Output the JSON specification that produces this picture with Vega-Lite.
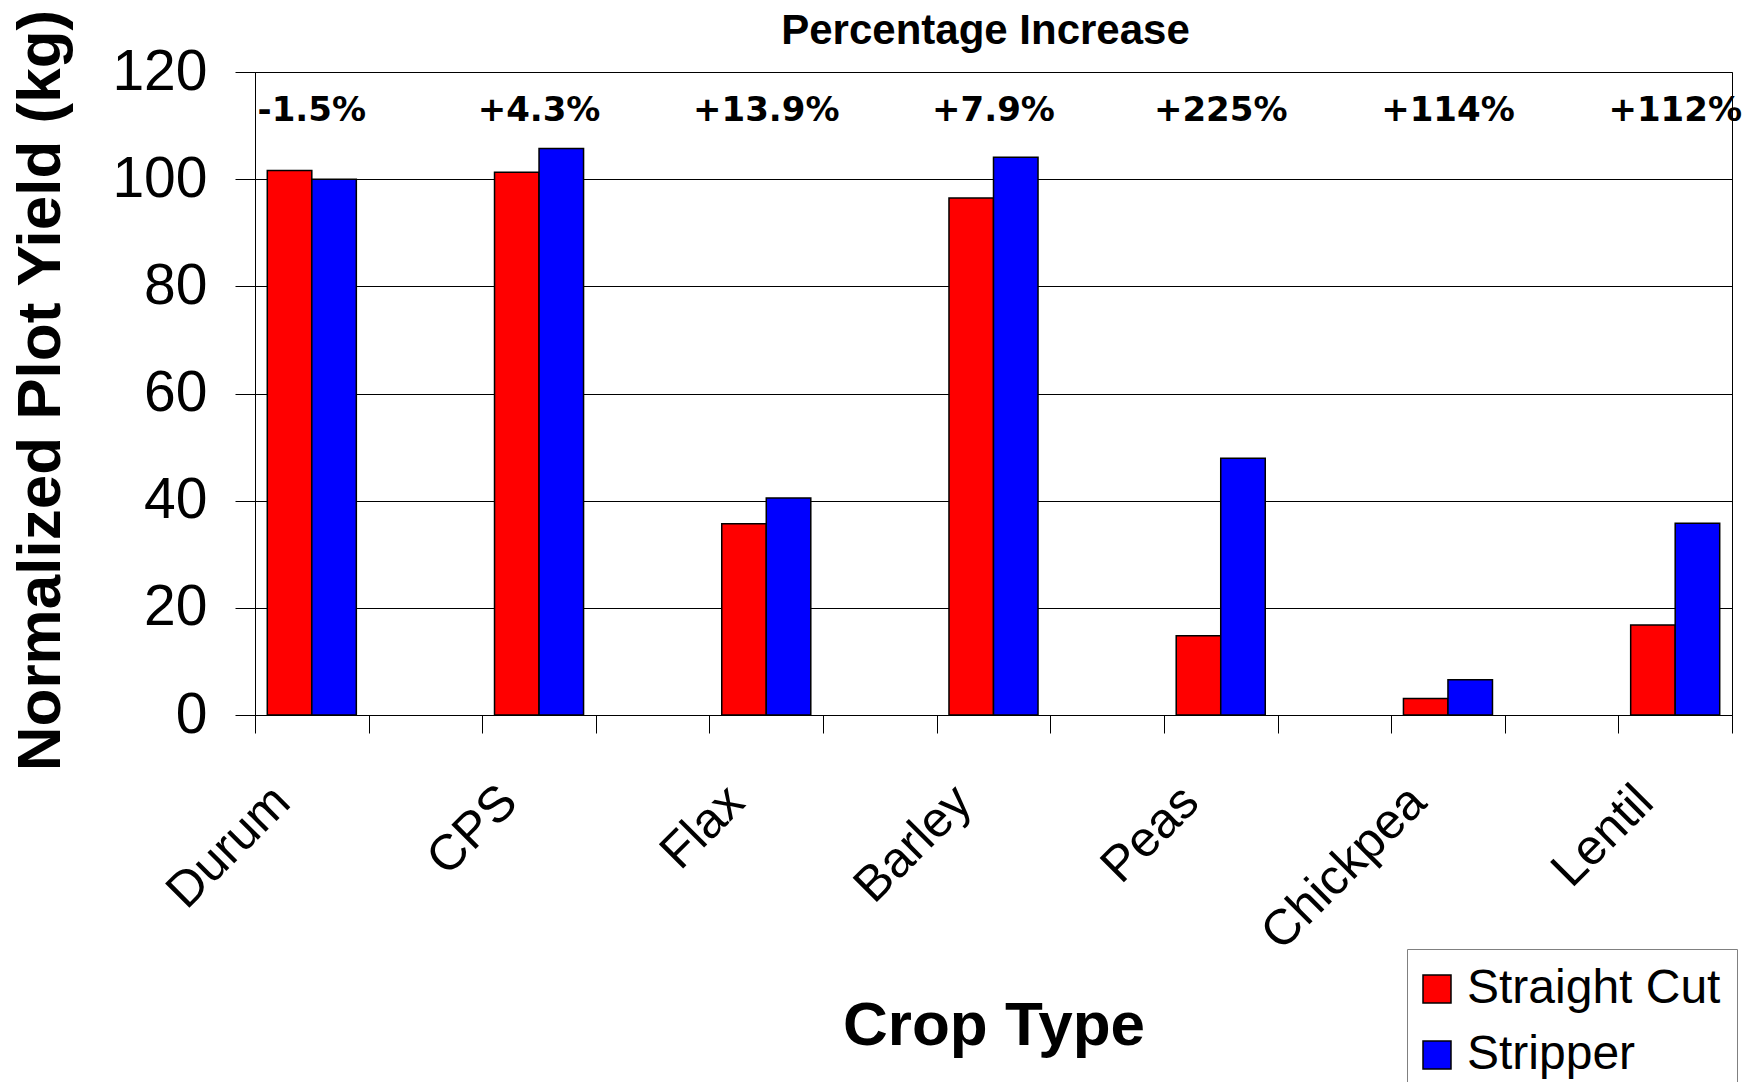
{
  "$schema": "https://vega.github.io/schema/vega-lite/v6.json",
  "width": 1477,
  "height": 643,
  "autosize": {"type": "none"},
  "padding": {"left": 255, "top": 72, "right": 12, "bottom": 367},
  "background": "white",
  "title": {
    "text": "Percentage Increase",
    "font": "Liberation Sans",
    "fontSize": 42,
    "fontWeight": "bold",
    "color": "black",
    "anchor": "middle",
    "offset": -44,
    "dx": -8
  },
  "datasets": {
    "yields": [
      {"crop": "Durum", "method": "Straight Cut", "yield": 101.6},
      {"crop": "Durum", "method": "Stripper", "yield": 100.0},
      {"crop": "CPS", "method": "Straight Cut", "yield": 101.3},
      {"crop": "CPS", "method": "Stripper", "yield": 105.7},
      {"crop": "Flax", "method": "Straight Cut", "yield": 35.7},
      {"crop": "Flax", "method": "Stripper", "yield": 40.5},
      {"crop": "Barley", "method": "Straight Cut", "yield": 96.5},
      {"crop": "Barley", "method": "Stripper", "yield": 104.1},
      {"crop": "Peas", "method": "Straight Cut", "yield": 14.8},
      {"crop": "Peas", "method": "Stripper", "yield": 47.9},
      {"crop": "Chickpea", "method": "Straight Cut", "yield": 3.1},
      {"crop": "Chickpea", "method": "Stripper", "yield": 6.6},
      {"crop": "Lentil", "method": "Straight Cut", "yield": 16.8},
      {"crop": "Lentil", "method": "Stripper", "yield": 35.8}
    ],
    "increase": [
      {"crop": "Durum", "change": "-1.5%"},
      {"crop": "CPS", "change": "+4.3%"},
      {"crop": "Flax", "change": "+13.9%"},
      {"crop": "Barley", "change": "+7.9%"},
      {"crop": "Peas", "change": "+225%"},
      {"crop": "Chickpea", "change": "+114%"},
      {"crop": "Lentil", "change": "+112%"}
    ]
  },
  "config": {
    "view": {"stroke": "black", "strokeWidth": 1},
    "font": "Liberation Sans"
  },
  "encoding": {
    "x": {
      "field": "crop",
      "type": "nominal",
      "title": "Crop Type",
      "scale": {
        "domain": ["Durum", "gap1", "CPS", "gap2", "Flax", "gap3", "Barley", "gap4", "Peas", "gap5", "Chickpea", "gap6", "Lentil"],
        "paddingInner": 0,
        "paddingOuter": 0
      },
      "axis": {
        "labelAngle": -45,
        "labelFont": "Liberation Sans",
        "labelFontSize": 50,
        "labelColor": "black",
        "labelOverlap": false,
        "labelLimit": 400,
        "labelExpr": "indexof(datum.label, 'gap') === 0 ? '' : datum.label",
        "labelPadding": 43,
        "labelOffset": -48,
        "tickBand": "extent",
        "tickSize": 18,
        "tickColor": "black",
        "domainColor": "black",
        "grid": false,
        "titleFont": "Liberation Sans",
        "titleFontSize": 62,
        "titleFontWeight": "bold",
        "titleColor": "black",
        "titleBaseline": "top",
        "titleY": 280
      }
    }
  },
  "layer": [
    {
      "data": {"name": "yields"},
      "mark": {"type": "bar", "stroke": "black", "strokeWidth": 1.5},
      "encoding": {
        "xOffset": {
          "field": "method",
          "type": "nominal",
          "scale": {"domain": ["Straight Cut", "Stripper"], "paddingInner": 0, "paddingOuter": 0.276}
        },
        "y": {
          "field": "yield",
          "type": "quantitative",
          "title": "Normalized Plot Yield (kg)",
          "scale": {"domain": [0, 120], "nice": false},
          "axis": {
            "values": [0, 20, 40, 60, 80, 100, 120],
            "labelFont": "Liberation Sans",
            "labelFontSize": 57,
            "labelColor": "black",
            "labelPadding": 28,
            "tickSize": 20,
            "tickColor": "black",
            "domainColor": "black",
            "grid": true,
            "gridColor": "black",
            "gridOpacity": 1,
            "titleFont": "Liberation Sans",
            "titleFontSize": 62,
            "titleFontWeight": "bold",
            "titleColor": "black",
            "titleAngle": -90,
            "titleBaseline": "middle",
            "titleX": -215,
            "titleY": 318
          }
        },
        "color": {
          "field": "method",
          "type": "nominal",
          "scale": {"domain": ["Straight Cut", "Stripper"], "range": ["#FF0000", "#0000FF"]},
          "legend": {
            "title": null,
            "orient": "none",
            "legendX": 1152,
            "legendY": 877,
            "labelFont": "Liberation Sans",
            "labelFontSize": 48,
            "labelColor": "black",
            "labelLimit": 400,
            "labelOffset": 6,
            "symbolOffset": -10,
            "symbolType": "square",
            "symbolSize": 784,
            "symbolStrokeColor": "black",
            "symbolStrokeWidth": 1.5,
            "symbolOpacity": 1,
            "rowPadding": 18,
            "padding": 16,
            "strokeColor": "#808080",
            "fillColor": "white"
          }
        }
      }
    },
    {
      "data": {"name": "increase"},
      "mark": {
        "type": "text",
        "font": "DejaVu Sans",
        "fontWeight": "bold",
        "fontSize": 34,
        "color": "black",
        "align": "center",
        "baseline": "middle"
      },
      "encoding": {
        "y": {"datum": 112.8},
        "text": {"field": "change"}
      }
    }
  ]
}
